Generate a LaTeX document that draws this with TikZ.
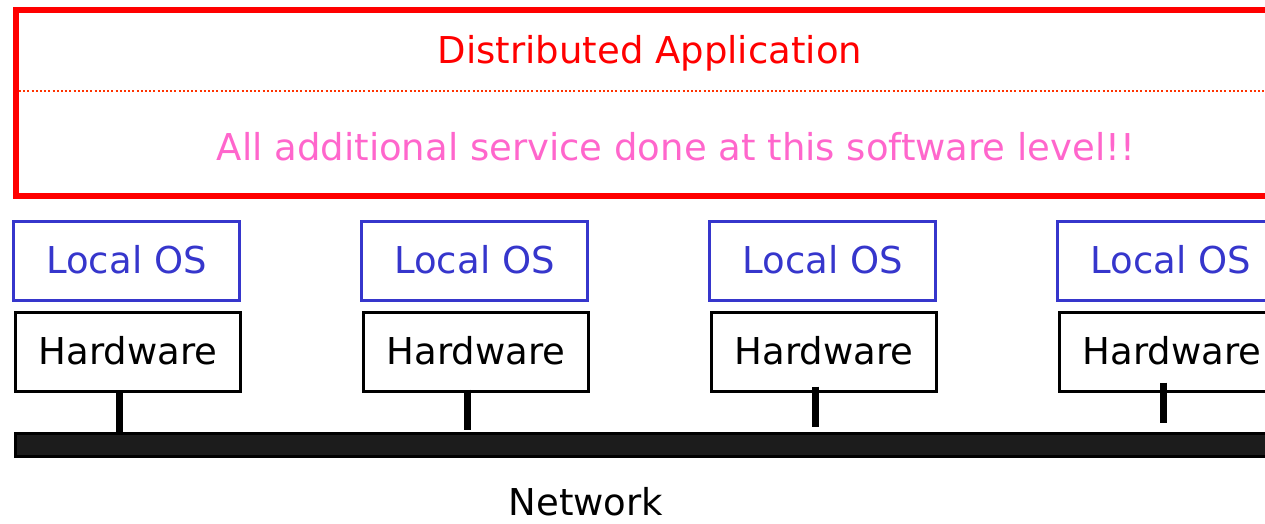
\documentclass[tikz,border=0pt]{standalone}
\usepackage{fontspec}
\setmainfont{DejaVu Sans}
\definecolor{appred}{HTML}{FF0000}
\definecolor{dotred}{HTML}{FF3300}
\definecolor{notepink}{HTML}{FF66CC}
\definecolor{osblue}{HTML}{3636CC}
\definecolor{netfill}{HTML}{1C1C1C}
\begin{document}
\begin{tikzpicture}[x=1pt,y=-1pt,
  bigfont/.style={font=\fontsize{37}{44}\selectfont},
  lbl/.style={bigfont, inner sep=0pt, anchor=base},
  osbox/.style={bigfont, draw=osblue, text=osblue, line width=3pt,
    minimum width=226pt, minimum height=79pt, inner sep=0pt,
    text height=24pt, text depth=0pt},
  hwbox/.style={bigfont, draw=black, line width=3pt,
    minimum width=225pt, minimum height=79pt, inner sep=0pt,
    text height=25pt, text depth=0pt},
  tapline/.style={line width=7pt, black}]
\useasboundingbox (0,0) rectangle (1265,523);
\clip (0,0) rectangle (1265,523);

% application layer frame
\node[draw=appred, line width=6pt, minimum width=1384pt, minimum height=186pt,
  inner sep=0pt] (app) at (708,103) {};
\draw[dotred, line width=2.5pt, line cap=butt, dash pattern=on 2pt off 2.2pt]
  (19,91) -- (1400,91);
\node[lbl, text=appred] (apptitle) at (650,63) {Distributed Application};
\node[lbl, text=notepink] (appnote) at (676,160) {All additional service done at this software level!!};

% per-machine stacks
\foreach \i/\x in {1/0,2/348,3/696,4/1044}{
  \node[osbox] (os\i) at (126.5+\x,261) {Local OS};
  \node[hwbox] (hw\i) at (128+\x,352) {Hardware};
}

% network bus
\node[draw=black, fill=netfill, line width=3pt, minimum width=1384.5pt,
  minimum height=23pt, inner sep=0pt] (bus) at (707.75,445) {};
\node[lbl, text depth=0pt] (netlabel) at (586,515) {Network};

% taps from each machine onto the bus
\coordinate (tap1) at (119,433);
\coordinate (tap2) at (467,430);
\coordinate (tap3) at (815,427);
\coordinate (tap4) at (1163,423);
\draw[tapline] ([xshift=-9pt]hw1.south) -- (tap1);
\draw[tapline] ([xshift=-9pt,yshift=3.5pt]hw2.south) -- (tap2);
\draw[tapline] ([xshift=-9pt,yshift=6.5pt]hw3.south) -- (tap3);
\draw[tapline] ([xshift=-9pt,yshift=10.5pt]hw4.south) -- (tap4);
\end{tikzpicture}
\end{document}
